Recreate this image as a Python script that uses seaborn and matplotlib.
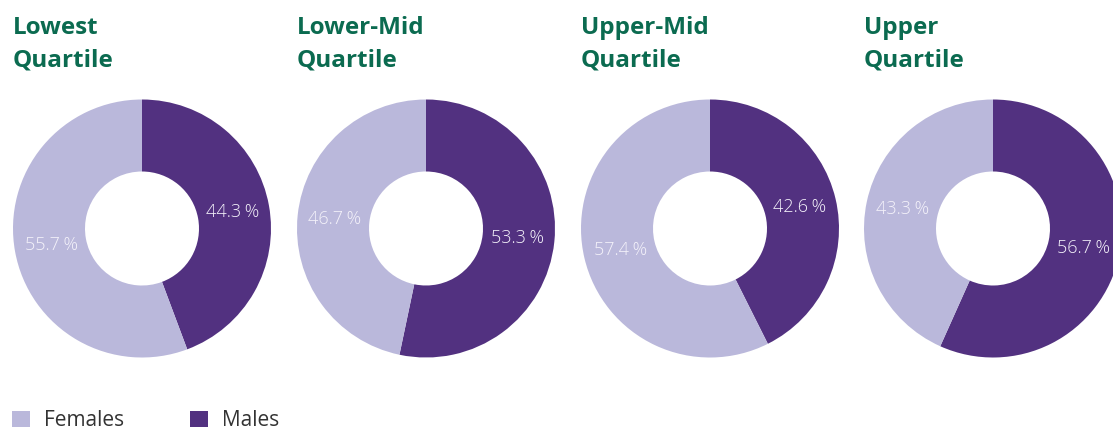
import matplotlib
matplotlib.use("Agg")
import matplotlib.pyplot as plt
import seaborn as sns
from matplotlib.patches import Patch

sns.set_theme(style="white")
plt.rcParams['font.family'] = ['Open Sans', 'DejaVu Sans']

titles = ["Lowest\nQuartile", "Lower-Mid\nQuartile", "Upper-Mid\nQuartile", "Upper\nQuartile"]
males = [44.3, 53.3, 42.6, 56.7]
females = [55.7, 46.7, 57.4, 43.3]
series_names = ["Females", "Males"]

male_color = "#523180"
female_color = "#BAB8DB"
title_color = "#0B6B50"
label_color = "#F4F2FA"

W, H = 1113, 430
fig = plt.figure(figsize=(W / 100, H / 100), dpi=100)
ax = fig.add_axes([0, 0, 1, 1])

centers_x = [142, 426, 710, 993]
cy = H - 228.5
R = 129
ring = 72

for i, (t, m, f) in enumerate(zip(titles, males, females)):
    cx = centers_x[i]
    wedges, texts, autotexts = ax.pie(
        [m, f], startangle=90, counterclock=False,
        colors=[male_color, female_color], radius=R, center=(cx, cy),
        wedgeprops=dict(width=ring, linewidth=0),
        autopct=lambda p: f"{p:.1f}\u2009%", pctdistance=0.715,
        textprops=dict(color=label_color, fontsize=13, fontweight="light"),
        frame=True,
    )
    ax.text(cx - R, H - 16, t, ha="left", va="top", fontsize=17.5,
            fontweight="bold", color=title_color, linespacing=1.5)

ax.set_xlim(0, W)
ax.set_ylim(0, H)
ax.set_aspect("equal")
ax.axis("off")

handles = [Patch(facecolor=female_color, edgecolor="none"),
           Patch(facecolor=male_color, edgecolor="none")]
fig.legend(handles, series_names, loc="lower left", bbox_to_anchor=(-0.002, -0.037),
           ncol=2, frameon=False, fontsize=15, handlelength=0.85, handleheight=0.85,
           handletextpad=0.65, columnspacing=3.2, borderaxespad=0.3,
           labelcolor="#333333")

fig.savefig("out.png", dpi=100)
